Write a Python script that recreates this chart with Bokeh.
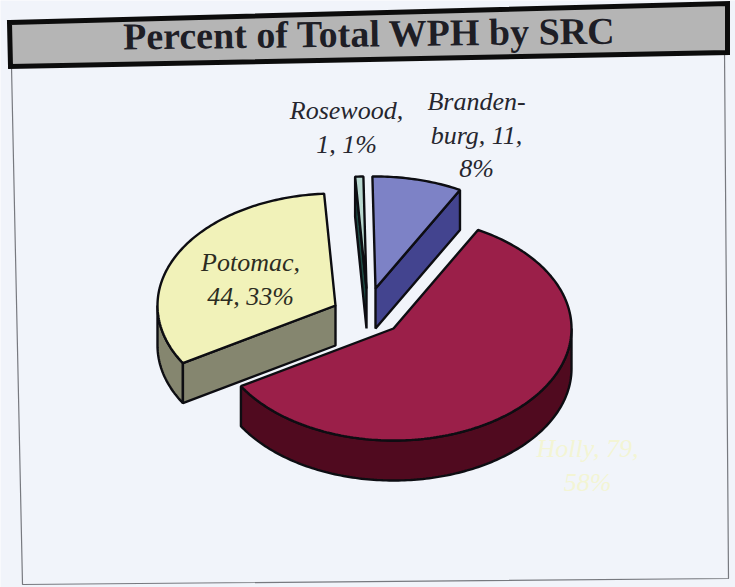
import numpy as np
from bokeh.plotting import figure
from bokeh.models import Range1d
from bokeh.core.properties import value
from bokeh.embed import file_html
from bokeh.resources import INLINE

title = "Percent of Total WPH by SRC"
names = ["Brandenburg", "Holly", "Potomac", "Rosewood"]
values = [11, 79, 44, 1]
top_colors = ["#7d82c6", "#9b1f49", "#f1f2b9", "#b9d8d0"]
side_colors = ["#43448f", "#500a1f", "#85866f", "#1e4a44"]
label_lines = [["Branden-", "burg, 11,", "8%"], ["Holly, 79,", "58%"], ["Potomac,", "44, 33%"], ["Rosewood,", "1, 1%"]]
label_colors = ["#26262e", "#f3f4d4", "#2c2c22", "#26262e"]

# layout of the projected pie, in picture pixels
RX, RY, DEPTH = 178, 112, 40
FIRST_ANGLE = -1.0
apex = {"Brandenburg": (375, 288), "Holly": (393, 328), "Potomac": (335, 305), "Rosewood": (366, 288)}
label_pos = {"Brandenburg": (476, 101), "Holly": (587, 448), "Potomac": (250, 262), "Rosewood": (346, 110)}
LINE_STEP = 33.5
LABEL_PX = 26

BG = "#f1f4fa"
p = figure(width=735, height=587, x_range=Range1d(0, 735), y_range=Range1d(587, 0),
           output_backend="svg", toolbar_location=None, min_border=0,
           background_fill_color=BG, border_fill_color=BG, outline_line_color=None)
p.xaxis.visible = False
p.yaxis.visible = False
p.xgrid.visible = False
p.ygrid.visible = False

# page frame
p.line([11, 22, 728, 724], [66, 584, 578, 50], line_color="#77797f", line_width=1.2)

# title bar
p.patch([9, 727, 727, 10], [22, 3, 52, 66], fill_color="#b5b5b5", line_color="#0c0c0c", line_width=5,
        line_join="miter")
p.text([369], [33], text=[title], text_font=value("Liberation Serif"), text_font_style="bold",
       text_font_size="38px", text_align="center", text_baseline="middle", text_color="#14141c",
       text_alpha=0.95, angle=0.012)


def rim(cx, cy, a0, a1, dy=0):
    t = np.radians(np.linspace(a0, a1, max(2, int(abs(a1 - a0)) + 2)))
    return cx + RX * np.sin(t), cy - RY * np.cos(t) + dy


total = sum(values)
edges = np.concatenate([[0], np.cumsum(values)]) / total * 360 + FIRST_ANGLE
LW = 2.4
EDGE = "#0d0d12"

for name, a0, a1, top, side in zip(names, edges[:-1], edges[1:], top_colors, side_colors):
    cx, cy = apex[name]
    # outer rim wall, on the part of the circle that faces the viewer
    lo, hi = max(a0, 90), min(a1, 270)
    if hi > lo:
        x, y = rim(cx, cy, lo, hi)
        xb, yb = rim(cx, cy, lo, hi, DEPTH)
        p.patch(np.r_[x, xb[::-1]], np.r_[y, yb[::-1]], fill_color=side, line_color=EDGE, line_width=LW)
    # cut walls that face the viewer
    cuts = {"Brandenburg": a1, "Potomac": a0, "Rosewood": a0}
    if name in cuts:
        ex, ey = rim(cx, cy, cuts[name], cuts[name])
        p.patch([cx, ex[0], ex[0], cx], [cy, ey[0], ey[0] + DEPTH, cy + DEPTH],
                fill_color=side, line_color=EDGE, line_width=LW)
    # top face
    x, y = rim(cx, cy, a0, a1)
    p.patch(np.r_[cx, x], np.r_[cy, y], fill_color=top, line_color=EDGE, line_width=LW)

for name, lines, color in zip(names, label_lines, label_colors):
    lx, ly = label_pos[name]
    ys = [ly + i * LINE_STEP for i in range(len(lines))]
    p.text([lx] * len(lines), ys, text=lines, text_font=value("Liberation Serif"),
           text_font_style="italic", text_font_size=f"{LABEL_PX}px", text_align="center",
           text_baseline="middle", text_color=color)

open("out.html", "w").write(file_html(p, INLINE))
